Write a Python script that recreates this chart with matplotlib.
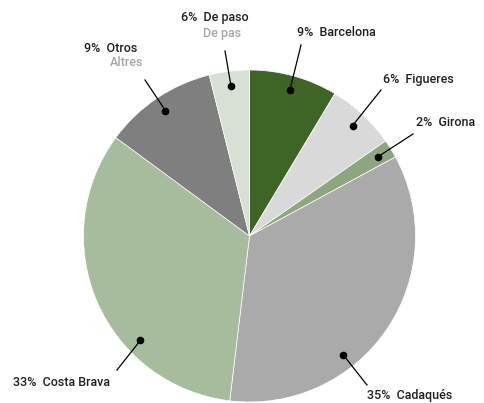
import numpy as np
import matplotlib
matplotlib.use("Agg")
from matplotlib import pyplot as plt

# slices, clockwise from 12 o'clock
names = ["Barcelona", "Figueres", "Girona", "Cadaqués", "Costa Brava", "Otros", "De paso"]
shares = [8.6, 6.7, 1.8, 34.8, 33.2, 11.0, 3.9]
pct_labels = ["9%", "6%", "2%", "35%", "33%", "9%", "6%"]
sub_labels = ["", "", "", "", "", "Altres", "De pas"]
colors = ["#3e6426", "#d9d9d9", "#8da67e", "#aaaaaa", "#a7bc9c", "#7f7f7f", "#d8e0d5"]

# where the leader dot sits inside each slice (0 = start, 1 = end)
dot_frac = [0.5, 0.5, 0.5, 0.64, 0.33, 0.5, 0.5]
# leader end and label anchor in pixels (x, y from top)
line_end = [(301, 45), (381, 90), (413, 134), (367, 385), (117, 370), (145, 80), (225, 51)]
text_pos = [(297, 32), (383, 80), (416, 123), (367, 395), (110, 382), (84, 48), (181, 18)]
text_ha = ["left", "left", "left", "left", "right", "left", "left"]
sub_pos = [None, None, None, None, None, (110, 63), (203, 33)]

W, H = 485, 403
cx, cy, R = 249.5, 236.0, 166.0


def px(p):
    return ((p[0] - cx) / R, (cy - p[1]) / R)


plt.rcParams['font.family'] = ['Roboto', 'DejaVu Sans']

fig = plt.figure(figsize=(W / 100, H / 100), dpi=100)
ax = fig.add_axes([0, 0, 1, 1])
ax.pie(shares, colors=colors, startangle=90, counterclock=False, radius=1,
       wedgeprops=dict(edgecolor="white", linewidth=0.5))
ax.set_xlim(-cx / R, (W - cx) / R)
ax.set_ylim((cy - H) / R, cy / R)
ax.set_aspect("equal")
ax.axis("off")

cum = np.concatenate([[0], np.cumsum(shares)]) / sum(shares)
for i, name in enumerate(names):
    f = cum[i] + dot_frac[i] * (cum[i + 1] - cum[i])
    ang = np.deg2rad(90 - 360 * f)
    dx, dy = 0.91 * np.cos(ang), 0.91 * np.sin(ang)
    ex, ey = px(line_end[i])
    ax.plot([dx, ex], [dy, ey], color="black", lw=0.9)
    ax.plot(dx, dy, "o", color="black", ms=4.5)
    tx, ty = px(text_pos[i])
    ax.text(tx, ty, pct_labels[i] + "  " + name, fontsize=9, color="#231f20",
            fontweight="medium", ha=text_ha[i], va="center")
    if sub_pos[i] is not None:
        sx, sy = px(sub_pos[i])
        ax.text(sx, sy, sub_labels[i], fontsize=9, color="#a6a6a6",
                fontweight="medium", ha="left", va="center")

fig.savefig("out.png", dpi=100)
